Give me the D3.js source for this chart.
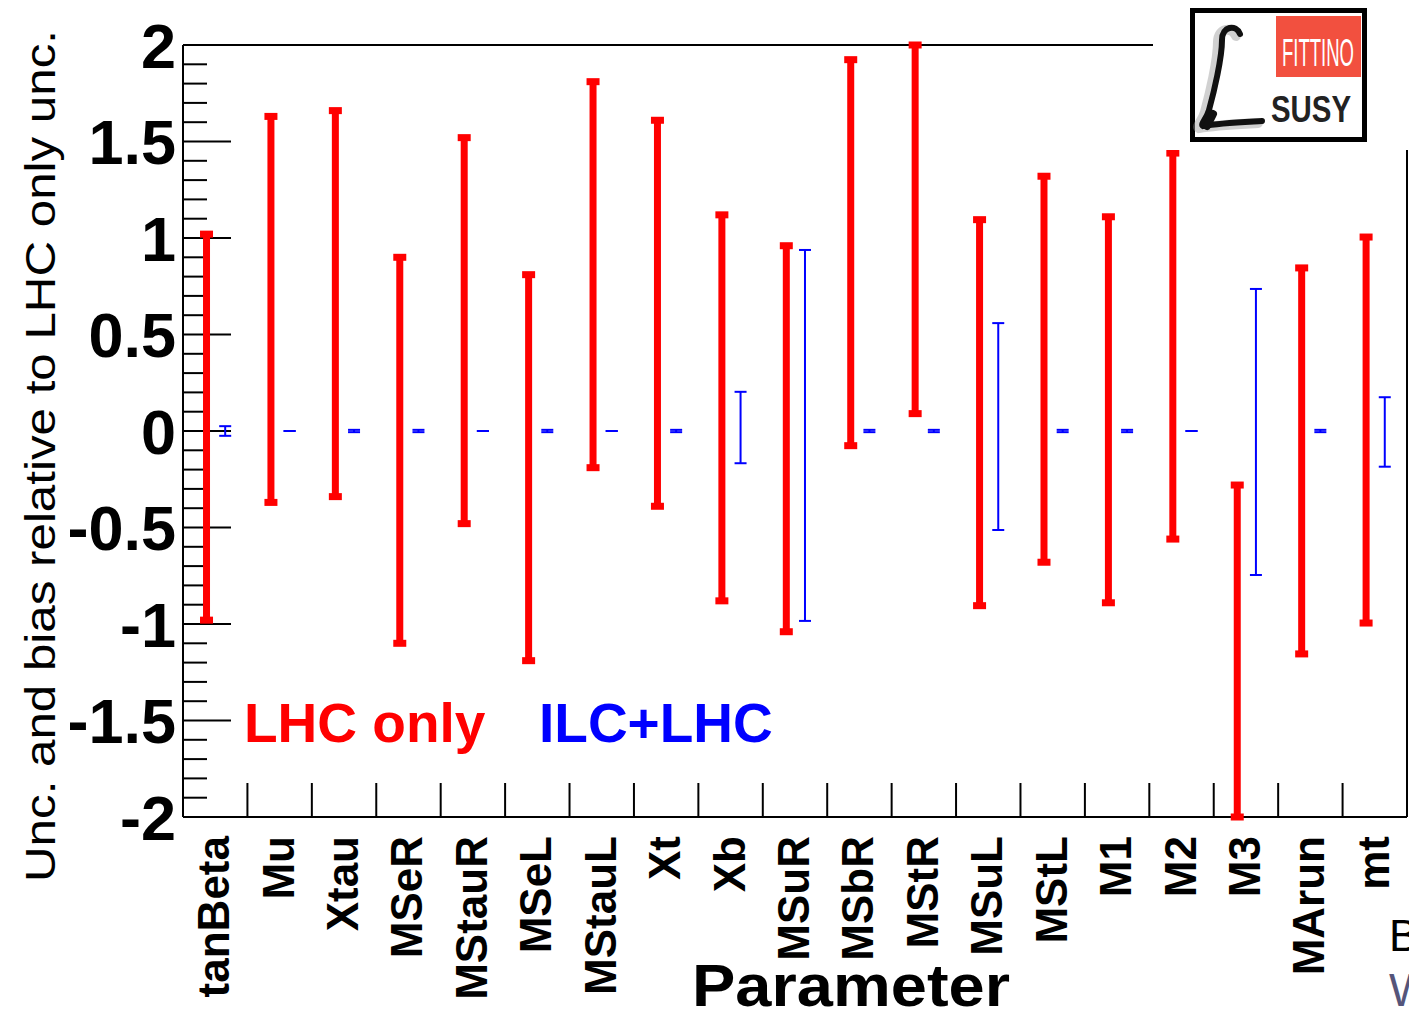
<!DOCTYPE html>
<html>
<head>
<meta charset="utf-8">
<script src="https://cdn.jsdelivr.net/npm/d3@7"></script>
<style>
  html, body { margin: 0; padding: 0; background: #fff; }
  svg { display: block; }
  text { font-family: "Liberation Sans", Arial, Helvetica, sans-serif; }
</style>
</head>
<body>
<svg id="chart" width="1409" height="1018"></svg>
<script>
// Fit parameters
const parameters = ["tanBeta", "Mu", "Xtau", "MSeR", "MStauR", "MSeL", "MStauL", "Xt", "Xb",
  "MSuR", "MSbR", "MStR", "MSuL", "MStL", "M1", "M2", "M3", "MArun", "mt"];

// LHC only: bias relative to the LHC-only uncertainty, and the (unit) relative uncertainty
const lhcBias = [0.02, 0.63, 0.66, -0.10, 0.52, -0.19, 0.81, 0.61, 0.12,
  -0.04, 0.924, 1.09, 0.095, 0.32, 0.11, 0.44, -1.28, -0.155, 0.005];
const lhcUnc = [1, 1, 1, 1, 1, 1, 1, 1, 1, 1, 1, 1, 1, 1, 1, 1, 1, 1, 1];

// ILC+LHC: bias and uncertainty relative to the LHC-only uncertainty
const ilcBias = [0, 0, 0, 0, 0, 0, 0, 0, 0.018,
  -0.023, 0, 0, 0.023, 0, 0, 0, -0.005, 0, -0.005];
const ilcUnc = [0.025, 0, 0.006, 0.006, 0, 0.006, 0, 0.006, 0.185,
  0.961, 0.006, 0.006, 0.536, 0.006, 0.006, 0, 0.741, 0.006, 0.18];

const yTicks = [-2, -1.5, -1, -0.5, 0, 0.5, 1, 1.5, 2];
const yTickLabels = ["-2", "-1.5", "-1", "-0.5", "0", "0.5", "1", "1.5", "2"];

(function draw() {
  const svg = d3.select("#chart");
  const left = 183, right = 1407, plotTop = 45, plotBottom = 817;

  const x = d3.scaleBand().domain(parameters).range([left, right]).padding(0);
  const y = d3.scaleLinear().domain([-2, 2]).range([plotBottom, plotTop]);
  const bw = x.bandwidth();
  const clip = v => Math.max(-2, Math.min(2, v));

  const RED = "#ff0000", BLUE = "#0000ff";

  // Frame: top line and right edge
  svg.append("line").attr("x1", left).attr("x2", right).attr("y1", plotTop).attr("y2", plotTop)
    .attr("stroke", "#000").attr("stroke-width", 2);
  svg.append("line").attr("x1", right).attr("x2", right).attr("y1", plotTop).attr("y2", plotBottom)
    .attr("stroke", "#000").attr("stroke-width", 2);

  // Y axis with major (0.5) and minor (0.1) ticks drawn inward
  const yAxisG = svg.append("g").attr("transform", `translate(${left},0)`);
  yAxisG.append("line").attr("x1", 0).attr("x2", 0).attr("y1", plotTop).attr("y2", plotBottom)
    .attr("stroke", "#000").attr("stroke-width", 2);
  const minor = d3.range(-20, 21).map(i => i / 10);
  yAxisG.selectAll("line.minor").data(minor).join("line").attr("class", "minor")
    .attr("x1", 0).attr("x2", d => (Math.abs(d * 2 - Math.round(d * 2)) < 1e-6) ? 48 : 24)
    .attr("y1", d => y(d)).attr("y2", d => y(d))
    .attr("stroke", "#000").attr("stroke-width", 2);
  yAxisG.selectAll("text.ytick").data(yTicks).join("text").attr("class", "ytick")
    .attr("x", -7).attr("y", d => y(d)).attr("dy", "0.36em")
    .attr("text-anchor", "end").attr("font-weight", "bold").attr("font-size", 63)
    .text((d, i) => yTickLabels[i]);

  // X axis with ticks at category boundaries
  const xAxisG = svg.append("g");
  xAxisG.append("line").attr("x1", left).attr("x2", right).attr("y1", plotBottom).attr("y2", plotBottom)
    .attr("stroke", "#000").attr("stroke-width", 2);
  xAxisG.selectAll("line.xt").data(parameters.slice(1)).join("line").attr("class", "xt")
    .attr("x1", d => x(d)).attr("x2", d => x(d)).attr("y1", plotBottom).attr("y2", plotBottom - 34)
    .attr("stroke", "#000").attr("stroke-width", 2);
  xAxisG.selectAll("text.xl").data(parameters).join("text").attr("class", "xl")
    .attr("transform", d => `translate(${x(d) + bw / 2 + 14},836) rotate(-90)`)
    .attr("text-anchor", "end").attr("font-weight", "bold").attr("font-size", 44)
    .text(d => d);

  // LHC only error bars
  const redG = svg.append("g");
  parameters.forEach((p, i) => {
    const cx = x(p) + bw * 0.365;
    const hi = clip(lhcBias[i] + lhcUnc[i]);
    const lo = clip(lhcBias[i] - lhcUnc[i]);
    redG.append("rect").attr("x", cx - 3.5).attr("width", 7)
      .attr("y", y(hi)).attr("height", y(lo) - y(hi)).attr("fill", RED);
    [hi, lo].forEach(v => {
      redG.append("rect").attr("x", cx - 6.5).attr("width", 13)
        .attr("y", y(v) - 3.5).attr("height", 7).attr("fill", RED);
    });
  });

  // ILC+LHC error bars
  const blueG = svg.append("g");
  parameters.forEach((p, i) => {
    const cx = x(p) + bw * 0.655;
    const hi = clip(ilcBias[i] + ilcUnc[i]);
    const lo = clip(ilcBias[i] - ilcUnc[i]);
    blueG.append("line").attr("x1", cx).attr("x2", cx).attr("y1", y(hi)).attr("y2", y(lo))
      .attr("stroke", BLUE).attr("stroke-width", 2);
    [hi, lo].forEach(v => {
      blueG.append("line").attr("x1", cx - 6).attr("x2", cx + 6)
        .attr("y1", y(v)).attr("y2", y(v)).attr("stroke", BLUE).attr("stroke-width", 2);
    });
  });

  // Legend text
  svg.append("text").attr("x", 244).attr("y", 742).attr("font-weight", "bold")
    .attr("font-size", 55).attr("fill", RED).text("LHC only");
  svg.append("text").attr("x", 539).attr("y", 742).attr("font-weight", "bold")
    .attr("font-size", 55).attr("fill", BLUE).text("ILC+LHC");

  // Axis titles
  svg.append("text").attr("x", 851).attr("y", 1006).attr("text-anchor", "middle")
    .attr("font-weight", "bold").attr("font-size", 60)
    .attr("textLength", 318).attr("lengthAdjust", "spacingAndGlyphs").text("Parameter");
  svg.append("text").attr("transform", "translate(55,456) rotate(-90)")
    .attr("text-anchor", "middle").attr("font-size", 43)
    .attr("textLength", 852).attr("lengthAdjust", "spacingAndGlyphs")
    .text("Unc. and bias relative to LHC only unc.");

  // Fittino logo
  const logo = svg.append("g");
  logo.append("rect").attr("x", 1153).attr("y", 0).attr("width", 256).attr("height", 150).attr("fill", "#fff");
  logo.append("rect").attr("x", 1192.5).attr("y", 10.5).attr("width", 172).attr("height", 129)
    .attr("fill", "#fff").attr("stroke", "#000").attr("stroke-width", 5);
  logo.append("rect").attr("x", 1276).attr("y", 16).attr("width", 85).attr("height", 61).attr("fill", "#f2503f");
  logo.append("text").attr("x", 1318).attr("y", 66).attr("text-anchor", "middle")
    .attr("fill", "#fff").attr("font-size", 38)
    .attr("textLength", 72).attr("lengthAdjust", "spacingAndGlyphs").text("FITTINO");
  // script L: soft shadow strokes, then the main stroke
  const scriptL = "M1240,34 C1236,24 1222,26 1222,40 C1222,58 1214,92 1209,110 C1206,120 1200,124 1203,126 C1220,123 1245,122 1262,121";
  logo.append("path").attr("d", scriptL).attr("fill", "none").attr("stroke", "#999")
    .attr("stroke-width", 10).attr("stroke-linecap", "round").attr("opacity", 0.45)
    .attr("transform", "translate(-4,2)");
  logo.append("path").attr("d", scriptL).attr("fill", "none").attr("stroke", "#111")
    .attr("stroke-width", 6).attr("stroke-linecap", "round");
  logo.append("path").attr("d", "M1213,114 L1207,126").attr("stroke", "#111")
    .attr("stroke-width", 8).attr("stroke-linecap", "round");
  logo.append("text").attr("x", 1271).attr("y", 122)
    .attr("fill", "#222").attr("font-size", 36).attr("font-weight", "bold")
    .attr("textLength", 80).attr("lengthAdjust", "spacingAndGlyphs").text("SUSY");

  // Text at the lower right edge
  svg.append("text").attr("x", 1389).attr("y", 951)
    .attr("font-family", "Liberation Serif, serif").attr("font-size", 44).attr("fill", "#000").text("B");
  svg.append("text").attr("x", 1389).attr("y", 1006)
    .attr("font-family", "Liberation Serif, serif").attr("font-size", 46).attr("fill", "#55557a").text("W");
})();
</script>
</body>
</html>
